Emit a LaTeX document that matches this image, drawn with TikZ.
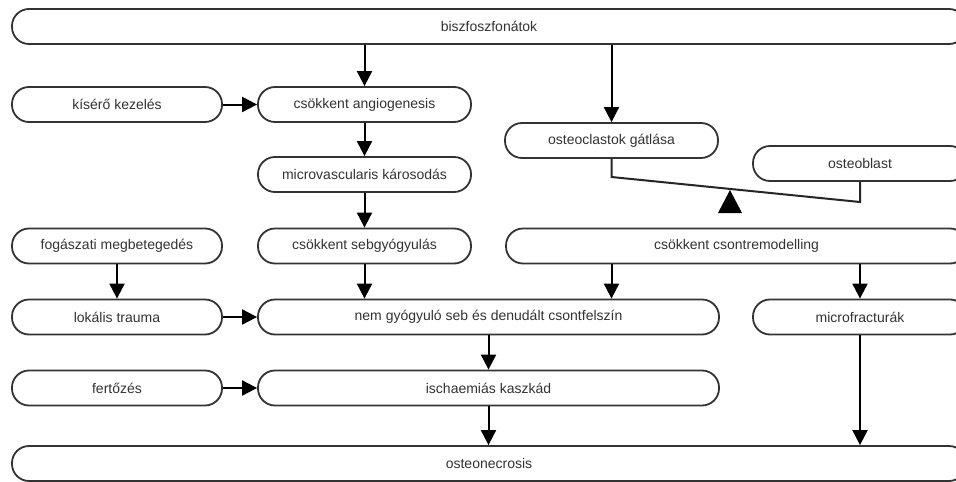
\documentclass[tikz,border=0pt]{standalone}
\usepackage{fontspec}
\setmainfont{Liberation Sans}
\usetikzlibrary{arrows.meta}
\definecolor{ink}{HTML}{333333}
\tikzset{
  box/.style={draw=ink, line width=1.8pt, rounded corners=17pt, minimum height=35pt,
    text=ink, font=\fontsize{14}{16}\selectfont, inner sep=0pt, fill=white},
  arr/.style={draw=black, line width=2pt, -{Triangle[length=15pt,width=15pt]}},
  lever/.style={draw=black!85, line width=2pt},
}
\begin{document}
\begin{tikzpicture}[x=1pt,y=-1pt]
\clip (0,0) rectangle (956,482);
\fill[white] (0,0) rectangle (956,482);
\node[box, minimum width=954pt] (bisz) at (489,26.5) {biszfoszfonátok};
\node[box, minimum width=210pt] (kis) at (117,104.5) {kísérő kezelés};
\node[box, minimum width=213pt] (ang) at (364.5,104.5) {csökkent angiogenesis};
\node[box, minimum width=213pt] (mic) at (364.5,174.5) {microvascularis károsodás};
\node[box, minimum width=213pt] (seb) at (364.5,246) {csökkent sebgyógyulás};
\node[box, minimum width=210pt] (fog) at (117,246) {fogászati megbetegedés};
\node[box, minimum width=210pt] (lok) at (117,317) {lokális trauma};
\node[box, minimum width=461pt] (nem) at (488.5,317) {nem gyógyuló seb és denudált csontfelszín};
\node[box, minimum width=210pt] (fer) at (117,388) {fertőzés};
\node[box, minimum width=461pt] (isc) at (488.5,388) {ischaemiás kaszkád};
\node[box, minimum width=954pt] (ost) at (489,463.5) {osteonecrosis};
\node[box, minimum width=213pt] (oc) at (611.5,140.5) {osteoclastok gátlása};
\node[box, minimum width=214pt] (ob) at (860,163.5) {osteoblast};
\node[box, minimum width=461pt] (csr) at (736.5,246) {csökkent csontremodelling};
\node[box, minimum width=214pt] (mf) at (860,317) {microfracturák};

\draw[arr] (bisz.south -| ang.north) -- (ang.north);
\draw[arr] (bisz.south -| oc.north) -- (oc.north);
\draw[arr] (kis.east) -- (ang.west);
\draw[arr] (ang.south) -- (mic.north);
\draw[arr] (mic.south) -- (seb.north);
\draw[arr] (seb.south) -- (seb.south |- nem.north);
\draw[arr] (fog.south) -- (lok.north);
\draw[arr] (lok.east) -- (nem.west);
\draw[arr] (nem.south) -- (isc.north);
\draw[arr] (fer.east) -- (isc.west);
\draw[arr] (isc.south) -- (isc.south |- ost.north);
\draw[arr] (csr.south -| oc.south) -- (nem.north -| oc.south);
\draw[arr] (csr.south -| mf.north) -- (mf.north);
\draw[arr] (mf.south) -- (mf.south |- ost.north);

\coordinate (sl) at (611.5,177);
\coordinate (sr) at (860,202);
\draw[lever] (oc.south) -- (sl) -- (sr) -- (ob.south);
\fill[black] (718,213) -- (730,190) -- (742,213) -- cycle;
\end{tikzpicture}
\end{document}
